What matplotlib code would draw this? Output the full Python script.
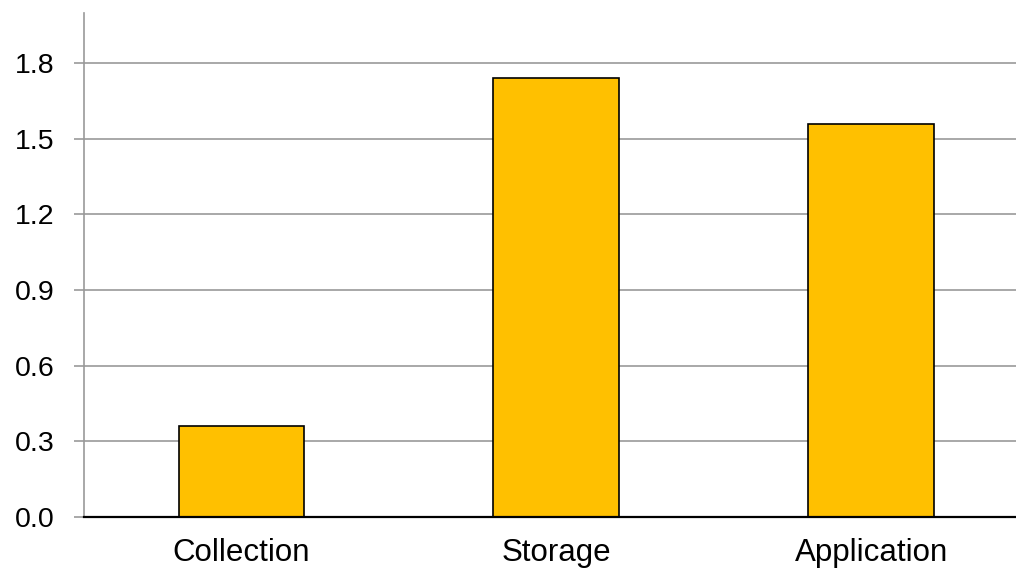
import matplotlib.pyplot as plt
import numpy as np

stages = ['Collection', 'Storage', 'Application']
values = [0.36, 1.74, 1.56]
y_ticks = [0.0, 0.3, 0.6, 0.9, 1.2, 1.5, 1.8]

plt.rcParams['font.family'] = ['Liberation Sans', 'DejaVu Sans']

fig = plt.figure(figsize=(10.16, 5.73), dpi=100)
ax = fig.add_axes([0.0827, 0.0977, 0.930, 0.880])

x = np.arange(len(stages))
ax.bar(x, values, width=0.4, color='#FFC000', edgecolor='black', linewidth=1.2, zorder=3)

ax.set_xlim(-0.5, 2.5)
ax.set_ylim(0, 2.0)
ax.set_yticks(y_ticks)
ax.set_yticklabels(['%.1f' % t for t in y_ticks])
ax.set_xticks(x)
ax.set_xticklabels(stages)

ax.yaxis.grid(True, color='#999999', linewidth=1.2, zorder=0)
ax.set_axisbelow(True)

for side in ['top', 'right']:
    ax.spines[side].set_visible(False)
ax.spines['left'].set_color('#999999')
ax.spines['left'].set_linewidth(1.2)
ax.spines['bottom'].set_color('black')
ax.spines['bottom'].set_linewidth(1.6)
ax.spines['bottom'].set_zorder(4)

ax.tick_params(axis='y', length=7, width=1.2, color='#999999', pad=14, labelsize=20.5)
ax.tick_params(axis='x', length=0, pad=15, labelsize=22.5)

fig.savefig('out.png', dpi=100)
